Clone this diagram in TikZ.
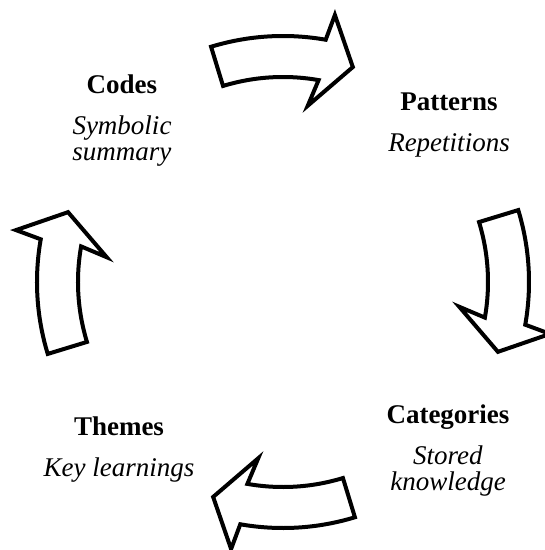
\documentclass[tikz,border=0pt]{standalone}
\usepackage{fontspec}
\setmainfont{Liberation Serif}
\usepackage{tikz}
\tikzset{
    cyclearrow/.style = {
        draw,
        fill=white,
        line width=4pt,
        line join=miter
    },
    stage/.style = {
        align=center,
        inner sep=0pt,
        font=\fontsize{27}{26}\selectfont
    }
}

% one curved block arrow of the ring, centred on angle #1, running clockwise
\newcommand{\bentarrow}[1]{%
    \draw [cyclearrow] ({#1+17}:246pt) arc [start angle={#1+17}, end angle={#1-10}, radius=246pt]
        -- ({#1-11}:272pt) -- ({#1-18}:226pt) -- ({#1-8}:178pt) -- ({#1-10}:205pt)
        arc [start angle={#1-10}, end angle={#1+17}, radius=205pt] -- cycle;
}

\begin{document}
\begin{tikzpicture}

\useasboundingbox (-283pt,-268pt) rectangle (262pt,282pt);

% Arrows round the ring
\foreach \a in {90,0,-90,-180} {
    \bentarrow{\a}
}

% Stages
\node [stage] (codes) at (-161pt,161pt) {\textbf{Codes}\\[15pt]\textit{Symbolic}\\\textit{summary}};
\node [stage] (patterns) at (166pt,157pt) {\textbf{Patterns}\\[15pt]\textit{Repetitions}};
\node [stage] (categories) at (165pt,-169pt) {\textbf{Categories}\\[15pt]\textit{Stored}\\\textit{knowledge}};
\node [stage] (themes) at (-164pt,-168pt) {\textbf{Themes}\\[15pt]\textit{Key learnings}};

\end{tikzpicture}
\end{document}
